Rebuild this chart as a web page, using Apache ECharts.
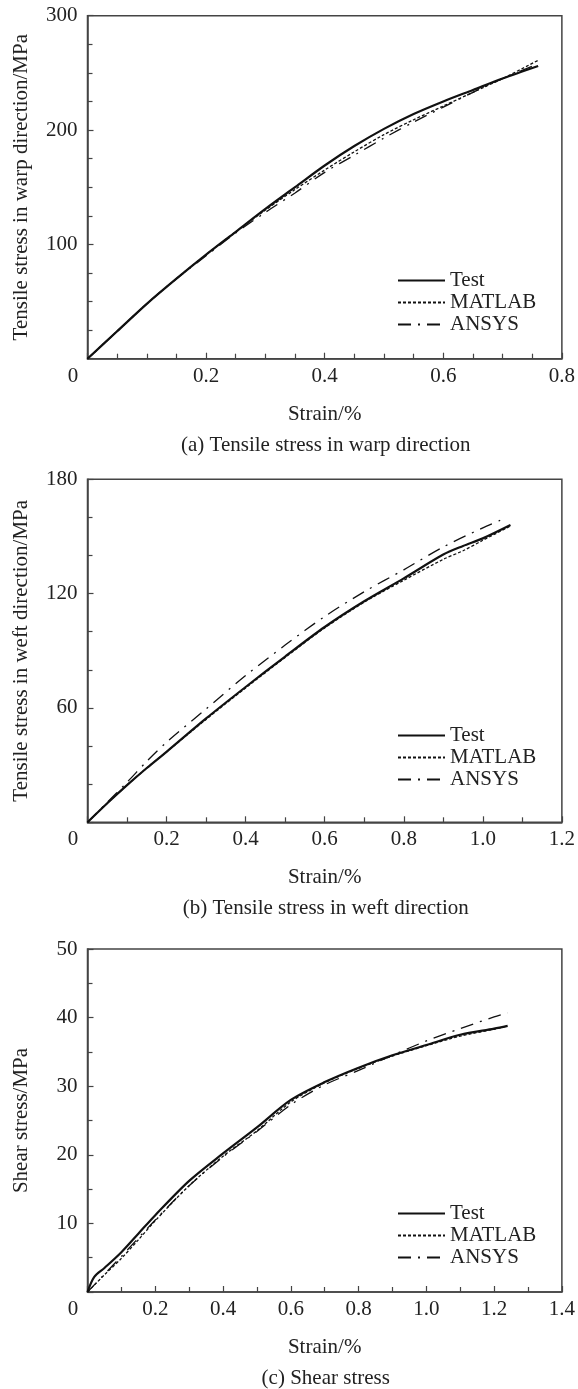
<!DOCTYPE html>
<html>
<head>
<meta charset="utf-8">
<script src="https://cdn.jsdelivr.net/npm/echarts@6/dist/echarts.min.js"></script>
<style>
  html, body { margin: 0; padding: 0; background: #fff; }
  #main { width: 578px; height: 1389px; }
</style>
</head>
<body>
<div id="main"></div>
<script>
// (a) tensile stress in warp direction
const warpStrain = [0, 0.05, 0.1, 0.15, 0.2, 0.25, 0.3, 0.35, 0.4, 0.45, 0.5, 0.55, 0.6, 0.65, 0.7, 0.76];
const warpTest   = [0, 24, 48, 70, 91, 111, 131, 150, 169, 186, 201, 214, 225, 235, 245, 256];
const warpMatlab = [0, 24, 48, 70, 91, 111, 130, 148, 165, 181, 196, 209, 221, 233, 245, 261];
const warpAnsys  = [0, 24, 48, 70, 90, 110, 128, 145, 163, 178, 193, 207, 220, 233, 245, 258];

// (b) tensile stress in weft direction
const weftStrain = [0, 0.05, 0.1, 0.15, 0.2, 0.3, 0.4, 0.5, 0.6, 0.7, 0.8, 0.9, 0.95, 1.0, 1.07];
const weftTest   = [0, 10, 19.5, 28.5, 37, 54.5, 71, 87, 102.5, 116, 128, 140.5, 145, 149, 156];
const weftMatlab = [0, 10, 19.5, 28.5, 37, 54, 70.5, 86.5, 102, 115.5, 127, 138, 142.5, 148, 155.5];
const weftAnsysStrain = [0, 0.05, 0.1, 0.15, 0.2, 0.3, 0.4, 0.5, 0.6, 0.7, 0.8, 0.9, 1.0, 1.05];
const weftAnsys  = [0, 10.5, 21, 32, 42, 59.5, 77, 93, 108, 121, 132.5, 144.5, 154.5, 159];

// (c) shear stress
const shearStrain = [0, 0.02, 0.05, 0.1, 0.15, 0.2, 0.3, 0.4, 0.5, 0.6, 0.7, 0.8, 0.9, 1.0, 1.1, 1.2, 1.24];
const shearTest   = [0, 2.2, 3.5, 5.8, 8.5, 11.2, 16.2, 20.2, 24.0, 28.0, 30.6, 32.7, 34.5, 36.0, 37.5, 38.4, 38.8];
const shearMatlab = [0, 1.0, 2.5, 4.9, 7.6, 10.4, 15.5, 19.8, 23.5, 27.7, 30.5, 32.6, 34.4, 35.9, 37.3, 38.3, 38.8];
const shearAnsysStrain = [0, 0.1, 0.2, 0.3, 0.4, 0.5, 0.6, 0.7, 0.8, 0.9, 1.0, 1.1, 1.2, 1.24];
const shearAnsys  = [0, 5.2, 10.5, 15.5, 19.7, 23.4, 27.3, 30.2, 32.3, 34.5, 36.6, 38.4, 40.1, 40.7];

const seriesNames = ['Test', 'MATLAB', 'ANSYS'];
const captions = [
  '(a) Tensile stress in warp direction',
  '(b) Tensile stress in weft direction',
  '(c) Shear stress'
];
const yNames = [
  'Tensile stress in warp direction/MPa',
  'Tensile stress in weft direction/MPa',
  'Shear stress/MPa'
];

const font = '"Liberation Serif", "Times New Roman", serif';
const ink = '#111';
const frame = '#444';

// panel layout
const gridLeft = 87.5;
const gridWidth = 476.5;
const gridHeight = 343;
const gridTops = [15.7, 479.3, 949];
const legendTops = [270, 725, 1203];

const xRanges = [
  { max: 0.8, interval: 0.2, minor: 4 },
  { max: 1.2, interval: 0.2, minor: 2 },
  { max: 1.4, interval: 0.2, minor: 2 }
];
const yRanges = [
  { max: 300, interval: 100, minor: 4 },
  { max: 180, interval: 60, minor: 3 },
  { max: 50, interval: 10, minor: 2 }
];

function pairs(xs, ys) {
  return xs.map((x, i) => [x, ys[i]]);
}

const panels = [
  [pairs(warpStrain, warpTest), pairs(warpStrain, warpMatlab), pairs(warpStrain, warpAnsys)],
  [pairs(weftStrain, weftTest), pairs(weftStrain, weftMatlab), pairs(weftAnsysStrain, weftAnsys)],
  [pairs(shearStrain, shearTest), pairs(shearStrain, shearMatlab), pairs(shearAnsysStrain, shearAnsys)]
];

const lineStyles = [
  { width: 2.2, type: 'solid' },
  { width: 1.3, type: [3, 2] },
  { width: 1.3, type: [13, 7, 2, 7] }
];

const chart = echarts.init(document.getElementById('main'), null, { renderer: 'canvas' });

const grid = [], xAxis = [], yAxis = [], series = [], legend = [], title = [];

gridTops.forEach((top, p) => {
  grid.push({
    left: gridLeft, top: top, width: gridWidth, height: gridHeight,
    show: true, borderColor: frame, borderWidth: 1.5, backgroundColor: 'transparent'
  });

  xAxis.push({
    type: 'value', gridIndex: p, min: 0, max: xRanges[p].max, interval: xRanges[p].interval,
    name: 'Strain/%', nameLocation: 'middle', nameGap: 45,
    nameTextStyle: { fontFamily: font, fontSize: 21, color: '#222' },
    axisLine: { show: true, onZero: false, lineStyle: { color: frame, width: 1.5 } },
    axisTick: { show: true, inside: true, length: 6, lineStyle: { color: frame, width: 1.2 } },
    minorTick: { show: true, splitNumber: xRanges[p].minor, length: 5, lineStyle: { color: frame, width: 1.2 } },
    splitLine: { show: false },
    axisLabel: {
      fontFamily: font, fontSize: 21, color: '#222', margin: 7,
      showMaxLabel: true,
      formatter: v => v === 0 ? '{z|0}' : v.toFixed(1),
      rich: { z: { fontFamily: font, fontSize: 21, color: '#222', padding: [0, 29, 0, 0] } }
    }
  });

  yAxis.push({
    type: 'value', gridIndex: p, min: 0, max: yRanges[p].max, interval: yRanges[p].interval,
    name: yNames[p], nameLocation: 'middle', nameGap: 56, nameRotate: 90,
    nameTextStyle: { fontFamily: font, fontSize: 21, color: '#222' },
    axisLine: { show: true, onZero: false, lineStyle: { color: frame, width: 1.5 } },
    axisTick: { show: true, inside: true, length: 6, lineStyle: { color: frame, width: 1.2 } },
    minorTick: { show: true, splitNumber: yRanges[p].minor, length: 5, lineStyle: { color: frame, width: 1.2 } },
    splitLine: { show: false },
    axisLabel: {
      fontFamily: font, fontSize: 21, color: '#222', margin: 10,
      formatter: v => v === 0 ? '' : String(v)
    }
  });

  panels[p].forEach((data, s) => {
    series.push({
      name: seriesNames[s], type: 'line', xAxisIndex: p, yAxisIndex: p,
      data: data, symbol: 'none', smooth: 0.3, silent: true, animation: false,
      lineStyle: { color: ink, width: lineStyles[s].width, type: lineStyles[s].type },
      itemStyle: { color: ink }
    });
  });

  legend.push({
    data: seriesNames, orient: 'vertical', left: 397, top: legendTops[p],
    itemWidth: 47, itemHeight: 10, itemGap: 1, padding: 0,
    selectedMode: false,
    itemStyle: { opacity: 0 },   // hide the circle marker, keep only the line sample
    textStyle: { fontFamily: font, fontSize: 21, color: '#222', lineHeight: 21 }
  });

  title.push({
    text: captions[p], left: gridLeft + gridWidth / 2, textAlign: 'center',
    top: top + gridHeight + 76, padding: 0,
    textStyle: { fontFamily: font, fontSize: 21, fontWeight: 'normal', color: '#222' }
  });
});

chart.setOption({
  backgroundColor: '#fff',
  animation: false,
  title: title,
  grid: grid,
  xAxis: xAxis,
  yAxis: yAxis,
  legend: legend,
  series: series
});
</script>
</body>
</html>
